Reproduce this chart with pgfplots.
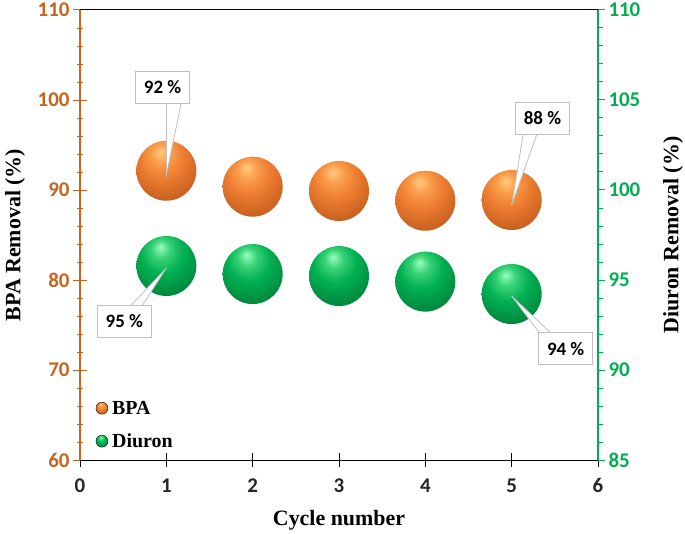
\documentclass[border=0pt]{standalone}
\usepackage{pgfplots}
\pgfplotsset{compat=1.18}
\usepackage{fontspec}
\setmainfont{Liberation Serif}
\newfontfamily\carlito{Carlito}
\definecolor{bpaaxis}{HTML}{C8641E}
\definecolor{diuaxis}{HTML}{00B050}
\definecolor{callgray}{HTML}{BFBFBF}
\pgfdeclareradialshading{oballsh}{\pgfpoint{-5bp}{16bp}}{%
  rgb(0bp)=(1,0.80,0.50); rgb(8bp)=(0.98,0.62,0.30); rgb(18bp)=(0.93,0.49,0.19);
  rgb(34bp)=(0.78,0.37,0.12); rgb(50bp)=(0.55,0.25,0.07); rgb(70bp)=(0.45,0.20,0.05)}
\pgfdeclareradialshading{gballsh}{\pgfpoint{-5bp}{16bp}}{%
  rgb(0bp)=(0.60,1,0.75); rgb(8bp)=(0.22,0.82,0.46); rgb(18bp)=(0,0.69,0.32);
  rgb(34bp)=(0,0.52,0.24); rgb(50bp)=(0,0.36,0.17); rgb(70bp)=(0,0.28,0.13)}
\pgfdeclareplotmark{oball}{\pgfpathcircle{\pgfpointorigin}{\pgfplotmarksize}\pgfshadepath{oballsh}{0}\pgfusepath{discard}}
\pgfdeclareplotmark{gball}{\pgfpathcircle{\pgfpointorigin}{\pgfplotmarksize}\pgfshadepath{gballsh}{0}\pgfusepath{discard}}
\tikzset{callout/.style={draw=callgray, fill=white, line width=0.8bp, minimum width=54bp, minimum height=32bp, inner sep=0pt, font=\carlito\bfseries\fontsize{19}{21}\selectfont, text=black}}
\begin{document}
\begin{tikzpicture}
\begin{axis}[
  name=ax1, scale only axis, width=518bp, height=450bp,
  xmin=0, xmax=6, ymin=60, ymax=110,
  xtick={0,...,6}, ytick={60,70,...,110}, minor y tick num=4,
  separate axis lines,
  x axis line style={black, line width=1bp},
  y axis line style={draw=bpaaxis, line width=1.2bp},
  xtick pos=bottom, ytick pos=left,
  tick align=center,
  major tick length=14bp, minor tick length=6bp,
  xtick style={black, line width=1bp},
  ytick style={bpaaxis, line width=1bp},
  /pgf/number format/assume math mode=true,
  xticklabel style={font=\carlito\bfseries\fontsize{21}{23}\selectfont, text=black!85, yshift=-8bp},
  yticklabel style={font=\carlito\bfseries\fontsize{21}{23}\selectfont, text=bpaaxis},
  xlabel={Cycle number}, ylabel={BPA Removal (\%)},
  label style={font=\bfseries\fontsize{22}{24}\selectfont},
  xlabel style={at={(axis description cs:0.5,-0.133)}, anchor=center},
  ylabel style={at={(axis description cs:-0.1255,0.5)}, anchor=center},
]
\addplot[only marks, mark=oball, mark size=30bp] coordinates {
  (1,92.14) (2,90.37) (3,89.89) (4,88.81) (5,88.89)};
\coordinate (bbsw) at (rel axis cs:0,0);
\coordinate (bbne) at (rel axis cs:1,1);
\coordinate (c92) at (axis cs:0.956,101.39);
\coordinate (t92) at (axis cs:1,91.67);
\coordinate (c88) at (axis cs:5.357,97.94);
\coordinate (t88) at (axis cs:5,88.33);
\end{axis}
\begin{axis}[
  scale only axis, width=518bp, height=450bp,
  xmin=0, xmax=6, ymin=85, ymax=110,
  axis x line=none, axis y line*=right,
  y axis line style={draw=diuaxis, line width=1.2bp},
  ytick={85,90,...,110}, minor y tick num=4,
  ytick align=outside,
  major tick length=7bp, minor tick length=5bp,
  ytick style={diuaxis, line width=1bp},
  /pgf/number format/assume math mode=true,
  yticklabel style={font=\carlito\bfseries\fontsize{21}{23}\selectfont, text=diuaxis},
  ylabel={Diuron Removal (\%)},
  label style={font=\bfseries\fontsize{22}{24}\selectfont},
  ylabel style={at={(axis description cs:1.145,0.5)}, anchor=center, rotate=0},
  legend style={at={(axis description cs:0.030,0.02)}, anchor=south west, draw=none, fill=none,
    font=\bfseries\fontsize{20}{22}\selectfont, row sep=14bp, column sep=2bp, inner sep=0pt},
  legend cell align=left,
]
\addlegendimage{legend image code/.code={\shade[shading=oballsh] (0.3cm,0bp) circle (6bp);}}
\addlegendentry{BPA}
\addlegendimage{legend image code/.code={\shade[shading=gballsh] (0.3cm,0bp) circle (6bp);}}
\addlegendentry{Diuron}
\addplot[only marks, mark=gball, mark size=30bp, forget plot] coordinates {
  (1,95.78) (2,95.33) (3,95.22) (4,94.91) (5,94.22)};
\coordinate (c94) at (axis cs:5.625,91.19);
\coordinate (t94) at (axis cs:5,94.11);
\coordinate (c95) at (axis cs:0.514,92.72);
\coordinate (t95) at (axis cs:1,95.67);
\end{axis}
\filldraw[fill=white, draw=callgray, line width=0.8bp] ([shift={(4bp,-14bp)}]c92) -- (t92) -- ([shift={(19bp,-14bp)}]c92) -- cycle;
\node[callout] at (c92) {92 \%};
\filldraw[fill=white, draw=callgray, line width=0.8bp] ([shift={(-19bp,-14bp)}]c88) -- (t88) -- ([shift={(-5bp,-14bp)}]c88) -- cycle;
\node[callout] at (c88) {88 \%};
\filldraw[fill=white, draw=callgray, line width=0.8bp] ([shift={(-25bp,14bp)}]c94) -- (t94) -- ([shift={(-13bp,14bp)}]c94) -- cycle;
\node[callout] at (c94) {94 \%};
\filldraw[fill=white, draw=callgray, line width=0.8bp] ([shift={(5bp,14bp)}]c95) -- (t95) -- ([shift={(17bp,14bp)}]c95) -- cycle;
\node[callout] at (c95) {95 \%};
\pgfresetboundingbox
\path ([shift={(-80bp,-73bp)}]bbsw) rectangle ([shift={(87bp,10bp)}]bbne);
\end{tikzpicture}
\end{document}
